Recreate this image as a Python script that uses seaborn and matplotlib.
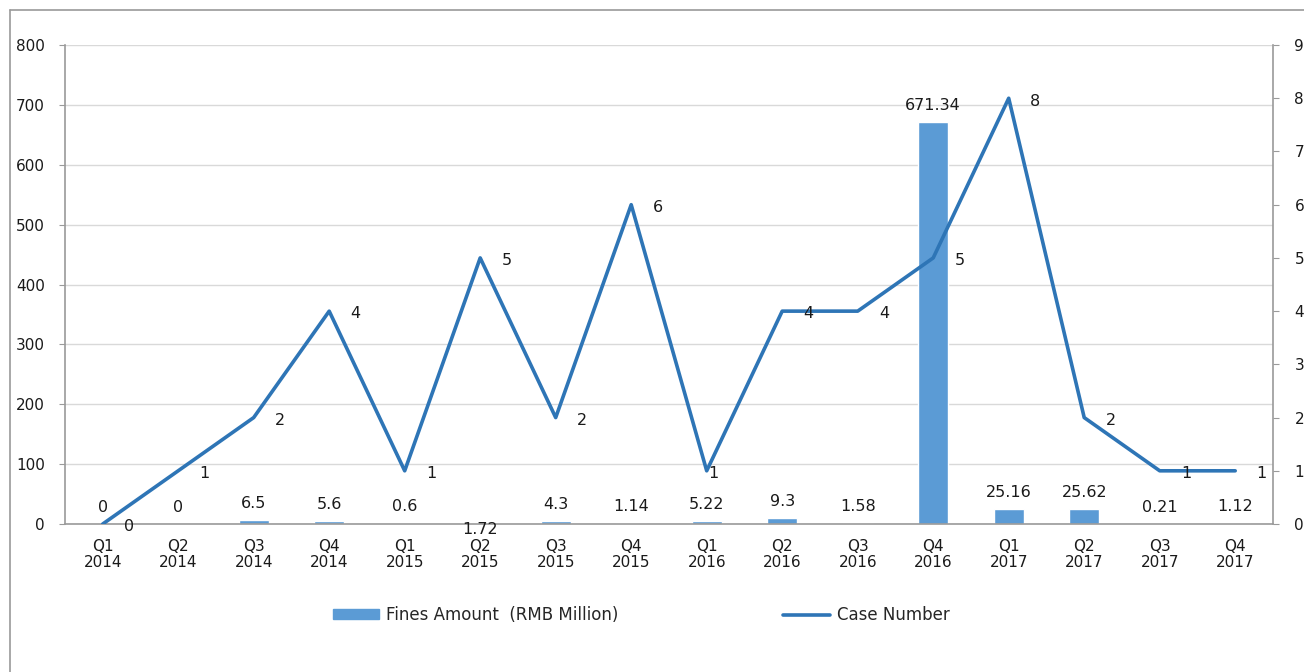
import numpy as np
import pandas as pd
import matplotlib
matplotlib.use('Agg')
import matplotlib.pyplot as plt
import seaborn as sns
from matplotlib.lines import Line2D
from matplotlib.patches import Patch

# Data
quarters = ['Q1', 'Q2', 'Q3', 'Q4'] * 4
years = ['2014'] * 4 + ['2015'] * 4 + ['2016'] * 4 + ['2017'] * 4
fines = [0, 0, 6.5, 5.6, 0.6, 1.72, 4.3, 1.14, 5.22, 9.3, 1.58, 671.34, 25.16, 25.62, 0.21, 1.12]
fine_labels = ['0', '0', '6.5', '5.6', '0.6', '1.72', '4.3', '1.14', '5.22', '9.3', '1.58',
               '671.34', '25.16', '25.62', '0.21', '1.12']
cases = [0, 1, 2, 4, 1, 5, 2, 6, 1, 4, 4, 5, 8, 2, 1, 1]

periods = [f'{q}\n{y}' for q, y in zip(quarters, years)]
df = pd.DataFrame({'period': periods, 'fines': fines, 'cases': cases})
df['pos'] = np.arange(len(df))

BAR_COLOR = '#5B9BD5'
LINE_COLOR = '#2E75B6'
AXIS_COLOR = '#9A9A9A'
GRID_COLOR = '#D9D9D9'
TEXT_COLOR = '#1a1a1a'

sns.set_style('white')
plt.rcParams['font.family'] = ['DejaVu Sans']

fig = plt.figure(figsize=(13.04, 6.72), dpi=100)
ax = fig.add_axes([0.0498, 0.2202, 0.9264, 0.7128])

sns.barplot(data=df, x='period', y='fines', color=BAR_COLOR, width=0.4,
            saturation=1, ax=ax, zorder=2)
ax.set_xlim(-0.5, len(df) - 0.5)
ax.set_ylim(0, 800)
ax.set_yticks(np.arange(0, 801, 100))
ax.yaxis.grid(True, color=GRID_COLOR, linewidth=1)
ax.set_axisbelow(True)
ax.set_xlabel('')
ax.set_ylabel('')

# category labels centred, tick marks between categories
ax.set_xticks(df['pos'], periods)
ax.tick_params(axis='x', which='major', length=0, pad=11, labelsize=11, labelcolor=TEXT_COLOR)
for lbl in ax.get_xticklabels():
    lbl.set_linespacing(1.05)
ax.set_xticks(np.arange(-0.5, len(df)), minor=True)
ax.tick_params(axis='x', which='minor', length=4.5, color=AXIS_COLOR, direction='out')
ax.tick_params(axis='y', length=4.5, color=AXIS_COLOR, labelsize=11, pad=10, labelcolor=TEXT_COLOR)

for side in ['top', 'right']:
    ax.spines[side].set_visible(False)
for side in ['left', 'bottom']:
    ax.spines[side].set_color(AXIS_COLOR)
    ax.spines[side].set_linewidth(1.2)

# bar value labels
for i, (v, t) in enumerate(zip(fines, fine_labels)):
    dy = 12 if t != '1.72' else -5
    ax.annotate(t, (i, v), xytext=(0, dy), textcoords='offset points',
                ha='center', va='center', fontsize=11.5, color=TEXT_COLOR)

ax2 = ax.twinx()
sns.lineplot(data=df, x='pos', y='cases', color=LINE_COLOR, linewidth=2.6, ax=ax2)
ax2.set_ylim(0, 9)
ax2.set_yticks(np.arange(0, 10, 1))
ax2.set_xlim(-0.5, len(df) - 0.5)
ax2.set_ylabel('')
ax2.set_xlabel('')
ax2.tick_params(axis='y', length=4.5, color=AXIS_COLOR, labelsize=11, pad=11, labelcolor=TEXT_COLOR)
for side in ['top', 'left', 'bottom']:
    ax2.spines[side].set_visible(False)
ax2.spines['right'].set_color(AXIS_COLOR)
ax2.spines['right'].set_linewidth(1.2)

# case number labels, to the right of each point
for i, c in enumerate(cases):
    dx = 19 if i != 8 else 5
    ax2.annotate(str(c), (i, c), xytext=(dx, -2), textcoords='offset points',
                 ha='center', va='center', fontsize=11.5, color=TEXT_COLOR)

# legend
handles = [Patch(color=BAR_COLOR), Line2D([], [], color=LINE_COLOR, linewidth=2.6)]
fig.legend(handles, ['Fines Amount  (RMB Million)', 'Case Number'], ncol=2,
           loc='center', bbox_to_anchor=(0.4916, 0.085), frameon=False,
           columnspacing=9.9, handlelength=2.8, handleheight=0.5, handletextpad=0.4,
           prop={'family': 'DejaVu Sans', 'size': 12})

# chart-area border (left and top edges visible)
fig.add_artist(Line2D([0.008, 0.008], [0.0, 0.985], color=AXIS_COLOR, linewidth=1.2))
fig.add_artist(Line2D([0.008, 1.0], [0.985, 0.985], color=AXIS_COLOR, linewidth=1.2))

fig.savefig('out.png', dpi=100, facecolor='white')
